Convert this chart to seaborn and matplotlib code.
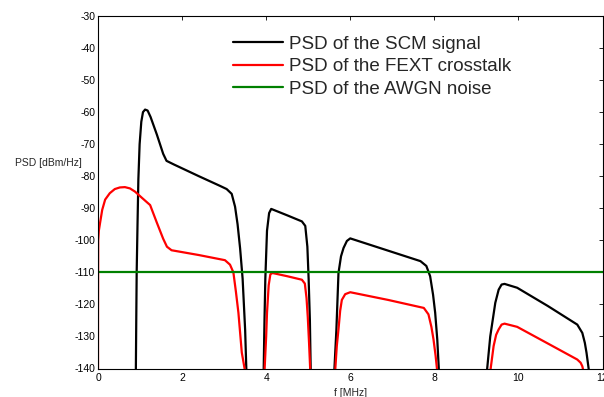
import matplotlib
matplotlib.use("Agg")
import matplotlib.pyplot as plt
import seaborn as sns
import pandas as pd
import numpy as np
from matplotlib.lines import Line2D

# ---------------- data ----------------
scm_b1_f = [0.90, 0.91, 0.92, 0.94, 0.96, 0.99, 1.03, 1.07, 1.12, 1.18, 1.25, 1.40, 1.55, 1.63, 1.80, 2.40, 2.90, 3.06, 3.18, 3.26, 3.32, 3.38, 3.44, 3.50, 3.53]
scm_b1_p = [-141, -125, -110, -95, -81, -70, -63, -60, -59.2, -59.5, -61.5, -67, -73, -75.2, -76.3, -80, -83, -84, -85.5, -89.5, -95, -102.5, -112, -128, -141]
scm_b2_f = [3.94, 3.96, 3.98, 4.02, 4.07, 4.12, 4.50, 4.85, 4.93, 4.98, 5.01, 5.04, 5.06]
scm_b2_p = [-141, -125, -112, -97, -91.5, -90.2, -92.2, -94.1, -95.5, -102, -112, -125, -141]
scm_b3_f = [5.62, 5.67, 5.72, 5.78, 5.84, 5.92, 6.00, 6.80, 7.67, 7.81, 7.90, 7.97, 8.02, 8.07, 8.11]
scm_b3_p = [-141, -128, -110.2, -105, -102.4, -100.2, -99.4, -102.8, -106.5, -108, -111.2, -117, -122.6, -131, -141]
scm_b4_f = [9.25, 9.33, 9.45, 9.53, 9.60, 9.67, 9.97, 10.70, 11.40, 11.52, 11.58, 11.62, 11.68]
scm_b4_p = [-141, -130, -119.5, -115.4, -113.8, -113.6, -114.8, -120.5, -126.3, -128.9, -132, -135.1, -141]

fext_b1_f = [0.0, 0.0, 0.005, 0.02, 0.05, 0.10, 0.17, 0.28, 0.40, 0.52, 0.64, 0.76, 0.88, 1.05, 1.24, 1.40, 1.55, 1.64, 1.75, 2.40, 3.02, 3.14, 3.22, 3.28, 3.34, 3.42, 3.48, 3.50]
fext_b1_p = [-141, -125, -100, -97, -94.5, -90.5, -87.3, -85.3, -84, -83.5, -83.4, -83.8, -84.8, -86.8, -89, -94.5, -99.5, -102, -103.1, -104.6, -106.2, -107.6, -110, -116, -122.6, -135, -139.5, -141]
fext_b2_f = [3.96, 4.00, 4.02, 4.06, 4.10, 4.15, 4.50, 4.85, 4.92, 4.96, 4.99, 5.02, 5.05]
fext_b2_p = [-141, -130, -122.6, -114, -110.6, -110.2, -111.2, -112.3, -113.5, -118, -124, -132, -141]
fext_b3_f = [5.64, 5.68, 5.72, 5.76, 5.80, 5.88, 6.00, 6.90, 7.75, 7.86, 7.93, 7.98, 8.03, 8.07]
fext_b3_p = [-141, -133, -127.8, -122, -118.6, -116.8, -116.2, -118.6, -121.1, -123.1, -127, -130.9, -136, -141]
fext_b4_f = [9.33, 9.37, 9.41, 9.47, 9.53, 9.60, 9.67, 9.97, 10.70, 11.40, 11.48, 11.52, 11.55]
fext_b4_p = [-141, -137, -133, -129.5, -127.8, -126.3, -126, -127, -132.2, -137.2, -138.2, -139.3, -141]

awgn_f = [0.0, 12.0]
awgn_p = [-110, -110]

labels = ["PSD of the SCM signal", "PSD of the FEXT crosstalk", "PSD of the AWGN noise"]
x_ticks = [0, 2, 4, 6, 8, 10, 12]
y_ticks = [-140, -130, -120, -110, -100, -90, -80, -70, -60, -50, -40, -30]


def build(bands):
    frames = []
    for i, (f, p) in enumerate(bands):
        frames.append(pd.DataFrame({"f": f, "psd": p, "band": i}))
    return pd.concat(frames, ignore_index=True)


scm = build([(scm_b1_f, scm_b1_p), (scm_b2_f, scm_b2_p), (scm_b3_f, scm_b3_p), (scm_b4_f, scm_b4_p)])
fext = build([(fext_b1_f, fext_b1_p), (fext_b2_f, fext_b2_p), (fext_b3_f, fext_b3_p), (fext_b4_f, fext_b4_p)])
awgn = build([(awgn_f, awgn_p)])

# ---------------- plot ----------------
sns.set_style("white")
plt.rcParams["font.family"] = ["Liberation Sans", "DejaVu Sans"]

fig = plt.figure(figsize=(6.04, 3.97), dpi=100)
ax = fig.add_axes([98 / 604, 1 - 368.5 / 397, 504.5 / 604, 352.5 / 397])

sns.lineplot(data=scm, x="f", y="psd", units="band", estimator=None, sort=False,
             color="black", lw=1.6, ax=ax)
sns.lineplot(data=fext, x="f", y="psd", units="band", estimator=None, sort=False,
             color="#ff0000", lw=1.6, ax=ax)
sns.lineplot(data=awgn, x="f", y="psd", units="band", estimator=None, sort=False,
             color="#008000", lw=1.6, ax=ax)

ax.set_xlim(0, 12)
ax.set_ylim(-140, -30)
ax.set_xticks(x_ticks)
ax.set_yticks(y_ticks)
ax.set_xticklabels([str(t) for t in x_ticks])
ax.set_yticklabels([str(t) for t in y_ticks])
ax.tick_params(direction="in", top=True, right=True, length=3, width=0.6,
               labelsize=7.5, colors="black", pad=2)
ax.tick_params(axis="x", pad=3.5)
for s in ax.spines.values():
    s.set_visible(True)
    s.set_color("black")
    s.set_linewidth(0.8)

ax.set_xlabel("f [MHz]", fontsize=7.5, labelpad=3.5)
ax.set_ylabel("PSD [dBm/Hz]", fontsize=7.5, rotation=0, ha="right", va="center")
ax.yaxis.set_label_coords(-0.032, 0.582)

handles = [Line2D([], [], color="black", lw=1.6),
           Line2D([], [], color="#ff0000", lw=1.6),
           Line2D([], [], color="#008000", lw=1.6)]
ax.legend(handles, labels, loc="upper left", bbox_to_anchor=(0.2599, 0.9555),
          frameon=False, fontsize=13.5, handlelength=2.67, handletextpad=0.3,
          labelspacing=0.3, borderaxespad=0, borderpad=0.2)

fig.savefig("out.png", dpi=100)
